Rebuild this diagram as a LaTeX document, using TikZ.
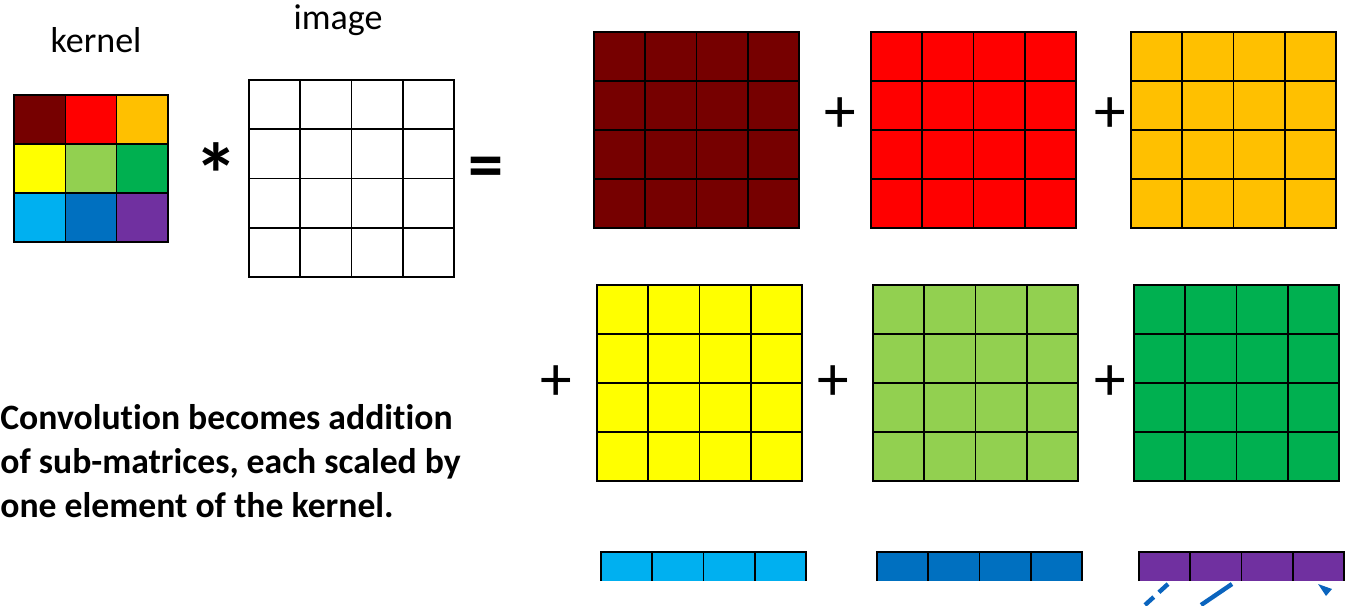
\documentclass[tikz,border=0pt]{standalone}
\usepackage{fontspec}
\setmainfont{Carlito}[Ligatures=NoCommon]
\definecolor{kdarkred}{RGB}{118,0,0}
\definecolor{kred}{RGB}{255,0,0}
\definecolor{korange}{RGB}{255,192,0}
\definecolor{kyellow}{RGB}{255,255,0}
\definecolor{klgreen}{RGB}{146,208,80}
\definecolor{kgreen}{RGB}{0,176,80}
\definecolor{klblue}{RGB}{0,176,240}
\definecolor{kblue}{RGB}{0,112,192}
\definecolor{kpurple}{RGB}{112,48,160}
\definecolor{pointer}{RGB}{10,100,190}
\tikzset{
  gridline/.style={draw=black, line width=0.9pt},
  opsign/.style={font=\fontsize{36}{36}\selectfont, inner sep=0pt},
  label/.style={font=\fontsize{20.5}{24}\selectfont, inner sep=0pt}
}
\begin{document}
\begin{tikzpicture}[x=0.02cm, y=-0.02cm]
  \def\W{205}
  \def\H{196}
  \useasboundingbox (0,0) rectangle (1345,605);
  % kernel 3x3
  \foreach \x/\y/\c in {0/0/kdarkred, 1/0/kred, 2/0/korange,
                        0/1/kyellow, 1/1/klgreen, 2/1/kgreen,
                        0/2/klblue, 1/2/kblue, 2/2/kpurple}
    \fill[\c] ({14+\x*51.3},{95+\y*49}) rectangle ++(51.3,49);
  \foreach \i in {1,2} {
    \draw[gridline] ({14+\i*51.3},95) -- ++(0,147);
    \draw[gridline] (14,{95+\i*49}) -- ++(154,0);
  }
  \draw[gridline] (14,95) rectangle (168,242);
  \node[label] (kernel) at (96,40) {kernel};
  % image 4x4
  \foreach \i in {1,2,3} {
    \draw[gridline] ({249+\i*\W/4},80) -- ++(0,197);
    \draw[gridline] (249,{80+\i*197/4}) -- ++(\W,0);
  }
  \draw[gridline] (249,80) rectangle ++(\W,197);
  \node[label] (image) at (338,20) {image};
  \node[opsign, font=\bfseries\fontsize{50}{50}\selectfont] (conv) at (216,174) {*};
  \node[opsign, font=\bfseries\fontsize{40}{40}\selectfont] (equals) at (486,173) {=};
  % scaled sub-matrices
  \foreach \x/\y/\c in {594/32/kdarkred, 871/32/kred, 1131/32/korange,
                        597/285/kyellow, 873/285/klgreen, 1134/285/kgreen} {
    \fill[\c] (\x,\y) rectangle ++(\W,\H);
    \foreach \i in {1,2,3} {
      \draw[gridline] ({\x+\i*\W/4},\y) -- ++(0,\H);
      \draw[gridline] (\x,{\y+\i*\H/4}) -- ++(\W,0);
    }
    \draw[gridline] (\x,\y) rectangle ++(\W,\H);
  }
  % last row, cut off
  \foreach \x/\c in {601/klblue, 877/kblue, 1139/kpurple} {
    \fill[\c] (\x,552) rectangle ++(\W,29);
    \foreach \i in {1,2,3}
      \draw[gridline] ({\x+\i*\W/4},552) -- ++(0,29);
    \draw[gridline] (\x,581) -- ++(0,-29) -- ++(\W,0) -- ++(0,29);
  }
  \node[opsign] (plusA) at (840,115) {+};
  \node[opsign] (plusB) at (1110,115) {+};
  \node[opsign] (plusC) at (556,383) {+};
  \node[opsign] (plusD) at (833,383) {+};
  \node[opsign] (plusE) at (1110,383) {+};
  \node[anchor=north west, align=left, inner sep=0pt,
        font=\bfseries\fontsize{20.3}{25}\selectfont] (caption) at (0,404)
    {Convolution becomes addition\\of sub-matrices, each scaled by\\one element of the kernel.};
  % pointers below the cut
  \coordinate (p1) at (1168,584);
  \coordinate (q1) at (1145,605);
  \coordinate (p2) at (1232,584);
  \coordinate (q2) at (1201,605);
  \draw[pointer, line width=2.5pt, dash pattern=on 7pt off 4pt] (p1) -- (q1);
  \draw[pointer, line width=2.5pt] (p2) -- (q2);
  \fill[pointer] (1318,584) -- (1332,589) -- (1326,596) -- cycle;
\end{tikzpicture}
\end{document}
